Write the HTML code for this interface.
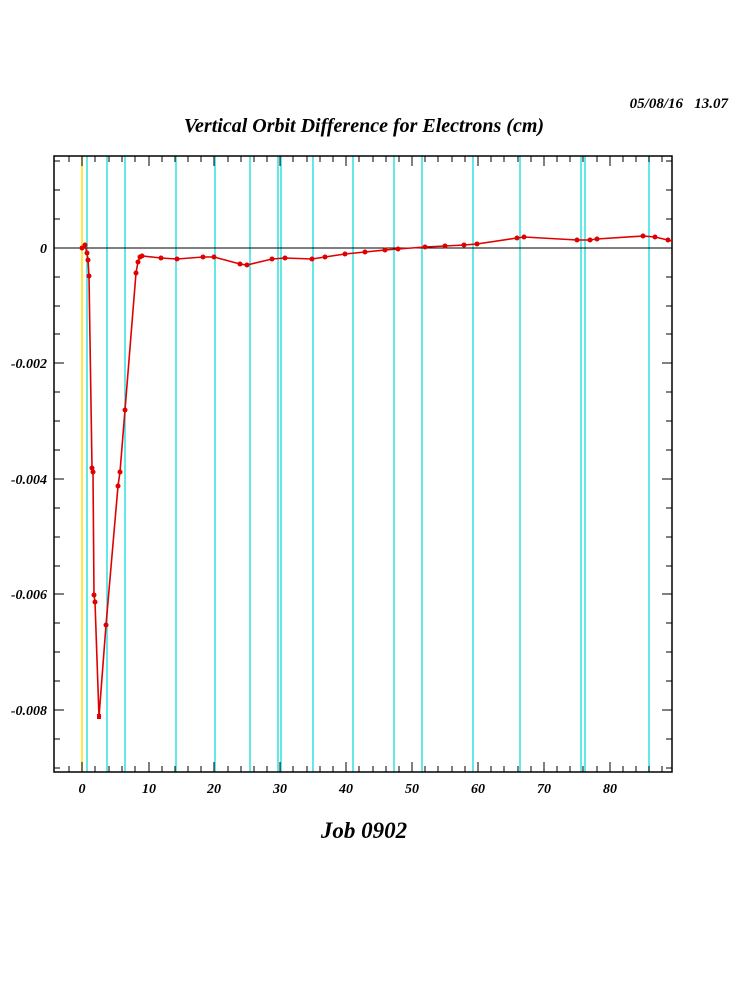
<!DOCTYPE html>
<html><head><style>body{margin:0;background:#fff}svg{display:block}text{font-family:"Liberation Serif",serif;font-weight:bold;font-style:italic}</style></head>
<body>
<svg width="750" height="1000" xmlns="http://www.w3.org/2000/svg">
<rect width="750" height="1000" fill="#fff"/>
<text x="728" y="108" font-size="15" text-anchor="end" xml:space="preserve">05/08/16   13.07</text>
<text x="364" y="132" font-size="20" text-anchor="middle">Vertical Orbit Difference for Electrons (cm)</text>
<text x="364" y="838" font-size="23" text-anchor="middle">Job 0902</text>
<line x1="82" y1="156" x2="82" y2="772" stroke="#ffe000" stroke-width="1.5"/>
<g stroke="#30e0e0" stroke-width="1.5">
<line x1="87" y1="156" x2="87" y2="772"/><line x1="107" y1="156" x2="107" y2="772"/><line x1="125" y1="156" x2="125" y2="772"/><line x1="176" y1="156" x2="176" y2="772"/><line x1="215" y1="156" x2="215" y2="772"/><line x1="250" y1="156" x2="250" y2="772"/><line x1="278" y1="156" x2="278" y2="772"/><line x1="281" y1="156" x2="281" y2="772"/><line x1="313" y1="156" x2="313" y2="772"/><line x1="353" y1="156" x2="353" y2="772"/><line x1="394" y1="156" x2="394" y2="772"/><line x1="422" y1="156" x2="422" y2="772"/><line x1="473" y1="156" x2="473" y2="772"/><line x1="520" y1="156" x2="520" y2="772"/><line x1="581" y1="156" x2="581" y2="772"/><line x1="585" y1="156" x2="585" y2="772"/><line x1="649" y1="156" x2="649" y2="772"/>
</g>
<line x1="54" y1="248" x2="672" y2="248" stroke="#000"/>
<rect x="54" y="156" width="618" height="616" fill="none" stroke="#000" stroke-width="1.5"/>
<g stroke="#000" stroke-width="1">
<path d="M69 156v6M82 156v10M95 156v6M109 156v6M122 156v6M135 156v6M149 156v10M162 156v6M175 156v6M188 156v6M201 156v6M214 156v10M228 156v6M241 156v6M254 156v6M267 156v6M280 156v10M293 156v6M307 156v6M320 156v6M333 156v6M346 156v10M359 156v6M373 156v6M386 156v6M399 156v6M412 156v10M425 156v6M438 156v6M452 156v6M465 156v6M478 156v10M491 156v6M504 156v6M518 156v6M531 156v6M544 156v10M557 156v6M570 156v6M583 156v6M597 156v6M610 156v10M623 156v6M636 156v6M649 156v6M662 156v6"/>
<path d="M69 772v-6M82 772v-10M95 772v-6M109 772v-6M122 772v-6M135 772v-6M149 772v-10M162 772v-6M175 772v-6M188 772v-6M201 772v-6M214 772v-10M228 772v-6M241 772v-6M254 772v-6M267 772v-6M280 772v-10M293 772v-6M307 772v-6M320 772v-6M333 772v-6M346 772v-10M359 772v-6M373 772v-6M386 772v-6M399 772v-6M412 772v-10M425 772v-6M438 772v-6M452 772v-6M465 772v-6M478 772v-10M491 772v-6M504 772v-6M518 772v-6M531 772v-6M544 772v-10M557 772v-6M570 772v-6M583 772v-6M597 772v-6M610 772v-10M623 772v-6M636 772v-6M649 772v-6M662 772v-6"/>
<path d="M54 161h6M54 190h6M54 219h6M54 248h10M54 277h6M54 306h6M54 334h6M54 363h10M54 392h6M54 421h6M54 450h6M54 479h10M54 508h6M54 537h6M54 566h6M54 594h10M54 623h6M54 652h6M54 681h6M54 710h10M54 739h6M54 768h6"/>
<path d="M672 161h-6M672 190h-6M672 219h-6M672 248h-10M672 277h-6M672 306h-6M672 334h-6M672 363h-10M672 392h-6M672 421h-6M672 450h-6M672 479h-10M672 508h-6M672 537h-6M672 566h-6M672 594h-10M672 623h-6M672 652h-6M672 681h-6M672 710h-10M672 739h-6M672 768h-6"/>
</g>
<g font-size="14" text-anchor="end">
<text x="47" y="253">0</text><text x="47" y="368">-0.002</text><text x="47" y="484">-0.004</text><text x="47" y="599">-0.006</text><text x="47" y="715">-0.008</text>
</g>
<g font-size="14" text-anchor="middle">
<text x="82" y="793">0</text><text x="149" y="793">10</text><text x="214" y="793">20</text><text x="280" y="793">30</text><text x="346" y="793">40</text><text x="412" y="793">50</text><text x="478" y="793">60</text><text x="544" y="793">70</text><text x="610" y="793">80</text>
</g>
<polyline fill="none" stroke="#e00000" stroke-width="1.6" points="82,248 85,245 87,253 88,260 89,276 92,468 93,472 94,595 95,602 99,717 106,625 118,486 120,472 125,410 136,273 138,262 140,257 142,256 161,258 177,259 203,257 214,257 240,264 247,265 272,259 285,258 312,259 325,257 345,254 365,252 385,250 398,249 425,247 445,246 464,245 477,244 517,238 524,237 577,240 590,240 597,239 643,236 655,237 672,241"/>
<g fill="#e00000">
<circle cx="82" cy="248" r="2.5"/><circle cx="85" cy="245" r="2.5"/><circle cx="87" cy="253" r="2.5"/><circle cx="88" cy="260" r="2.5"/><circle cx="89" cy="276" r="2.5"/><circle cx="92" cy="468" r="2.5"/><circle cx="93" cy="472" r="2.5"/><circle cx="94" cy="595" r="2.5"/><circle cx="95" cy="602" r="2.5"/><rect x="97" y="714" width="4" height="5"/><circle cx="106" cy="625" r="2.5"/><circle cx="118" cy="486" r="2.5"/><circle cx="120" cy="472" r="2.5"/><circle cx="125" cy="410" r="2.5"/><circle cx="136" cy="273" r="2.5"/><circle cx="138" cy="262" r="2.5"/><circle cx="140" cy="257" r="2.5"/><circle cx="142" cy="256" r="2.5"/><circle cx="161" cy="258" r="2.5"/><circle cx="177" cy="259" r="2.5"/><circle cx="203" cy="257" r="2.5"/><circle cx="214" cy="257" r="2.5"/><circle cx="240" cy="264" r="2.5"/><circle cx="247" cy="265" r="2.5"/><circle cx="272" cy="259" r="2.5"/><circle cx="285" cy="258" r="2.5"/><circle cx="312" cy="259" r="2.5"/><circle cx="325" cy="257" r="2.5"/><circle cx="345" cy="254" r="2.5"/><circle cx="365" cy="252" r="2.5"/><circle cx="385" cy="250" r="2.5"/><circle cx="398" cy="249" r="2.5"/><circle cx="425" cy="247" r="2.5"/><circle cx="445" cy="246" r="2.5"/><circle cx="464" cy="245" r="2.5"/><circle cx="477" cy="244" r="2.5"/><circle cx="517" cy="238" r="2.5"/><circle cx="524" cy="237" r="2.5"/><circle cx="577" cy="240" r="2.5"/><circle cx="590" cy="240" r="2.5"/><circle cx="597" cy="239" r="2.5"/><circle cx="643" cy="236" r="2.5"/><circle cx="655" cy="237" r="2.5"/><circle cx="668" cy="240" r="2.5"/>
</g>
</svg>
</body></html>
